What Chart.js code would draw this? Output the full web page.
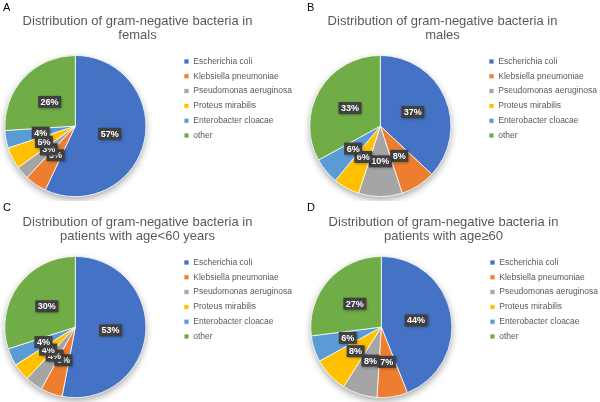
<!DOCTYPE html>
<html>
<head>
<meta charset="utf-8">
<script src="https://cdn.jsdelivr.net/npm/chart.js@4.4.0/dist/chart.umd.min.js"></script>
<style>
  body { margin: 0; background: #fff; }
  #wrap { position: relative; width: 600px; height: 402px; overflow: hidden; }
  canvas { position: absolute; }
  .tag { position: absolute; font: 11px "Liberation Sans", Arial, sans-serif; color: #000; }
</style>
</head>
<body>
<div id="wrap">
  <canvas id="chartA" width="329" height="201" style="left:-27px;top:0"></canvas>
  <canvas id="chartB" width="329" height="201" style="left:278px;top:0"></canvas>
  <canvas id="chartC" width="329" height="201" style="left:-27px;top:201px"></canvas>
  <canvas id="chartD" width="329" height="201" style="left:279px;top:201px"></canvas>
  <div class="tag" style="left:3px;top:1px">A</div>
  <div class="tag" style="left:307px;top:1px">B</div>
  <div class="tag" style="left:3px;top:201px">C</div>
  <div class="tag" style="left:307px;top:201px">D</div>
</div>
<script>
// bacteria (legend order)
const bacteria = ['Escherichia coli', 'Klebsiella pneumoniae', 'Pseudomonas aeruginosa',
    'Proteus mirabilis', 'Enterobacter cloacae', 'other'];
const colors = ['#4472C4', '#ED7D31', '#A5A5A5', '#FFC000', '#5B9BD5', '#70AD47'];

// percentages per group
const females = [57, 5, 3, 5, 4, 26];
const males = [37, 8, 10, 6, 6, 33];
const ageUnder60 = [53, 5, 4, 4, 4, 30];
const age60Plus = [44, 7, 8, 8, 6, 27];

const FONT = '"Liberation Sans", Arial, sans-serif';

// soft shadow under the whole pie
const pieShadow = {
    id: 'pieShadow',
    beforeDatasetsDraw(chart) {
        const arc = chart.getDatasetMeta(0).data[0];
        if (!arc) return;
        const ctx = chart.ctx;
        ctx.save();
        ctx.shadowColor = 'rgba(0,0,0,0.35)';
        ctx.shadowBlur = 7;
        ctx.shadowOffsetY = 3;
        ctx.fillStyle = '#fff';
        ctx.beginPath();
        ctx.arc(arc.x, arc.y, arc.outerRadius, 0, Math.PI * 2);
        ctx.fill();
        ctx.restore();
    }
};

// dark boxed percentage labels at half radius
const boxLabels = {
    id: 'boxLabels',
    afterDatasetsDraw(chart) {
        const ctx = chart.ctx;
        const values = chart.data.datasets[0].data;
        chart.getDatasetMeta(0).data.forEach((arc, i) => {
            const pos = arc.tooltipPosition();
            const text = values[i] + '%';
            ctx.save();
            ctx.font = 'bold 9px ' + FONT;
            const w = ctx.measureText(text).width + 5;
            const h = 12;
            ctx.shadowColor = 'rgba(0,0,0,0.4)';
            ctx.shadowBlur = 3;
            ctx.shadowOffsetX = 1;
            ctx.shadowOffsetY = 1;
            ctx.fillStyle = '#404040';
            ctx.fillRect(pos.x - w / 2, pos.y - h / 2, w, h);
            ctx.shadowColor = 'transparent';
            ctx.fillStyle = '#fff';
            ctx.textAlign = 'center';
            ctx.textBaseline = 'middle';
            ctx.fillText(text, pos.x, pos.y + 0.5);
            ctx.restore();
        });
    }
};

function makePie(id, values, title) {
    new Chart(id, {
        type: 'pie',
        data: {
            labels: bacteria,
            datasets: [{
                data: values,
                backgroundColor: colors,
                borderColor: '#fff',
                borderWidth: 0.75,
                hoverOffset: 0
            }]
        },
        options: {
            responsive: false,
            animation: false,
            events: [],
            layout: { padding: { left: 0, right: 0, top: 0, bottom: 4 } },
            plugins: {
                title: {
                    display: true,
                    text: title,
                    color: '#595959',
                    font: { family: FONT, size: 13, weight: 'normal', lineHeight: 1.08 },
                    padding: { top: 14, bottom: 13 }
                },
                legend: {
                    position: 'right',
                    labels: {
                        boxWidth: 5,
                        boxHeight: 5,
                        padding: 6.3,
                        color: '#595959',
                        font: { family: FONT, size: 8.5 }
                    }
                },
                tooltip: { enabled: false }
            }
        },
        plugins: [pieShadow, boxLabels]
    });
}

makePie('chartA', females, ['Distribution of gram-negative bacteria in', 'femals']);
makePie('chartB', males, ['Distribution of gram-negative bacteria in', 'males']);
makePie('chartC', ageUnder60, ['Distribution of gram-negative bacteria in', 'patients with age<60 years']);
makePie('chartD', age60Plus, ['Distribution of gram-negative bacteria in', 'patients with age\u226560']);
</script>
</body>
</html>
